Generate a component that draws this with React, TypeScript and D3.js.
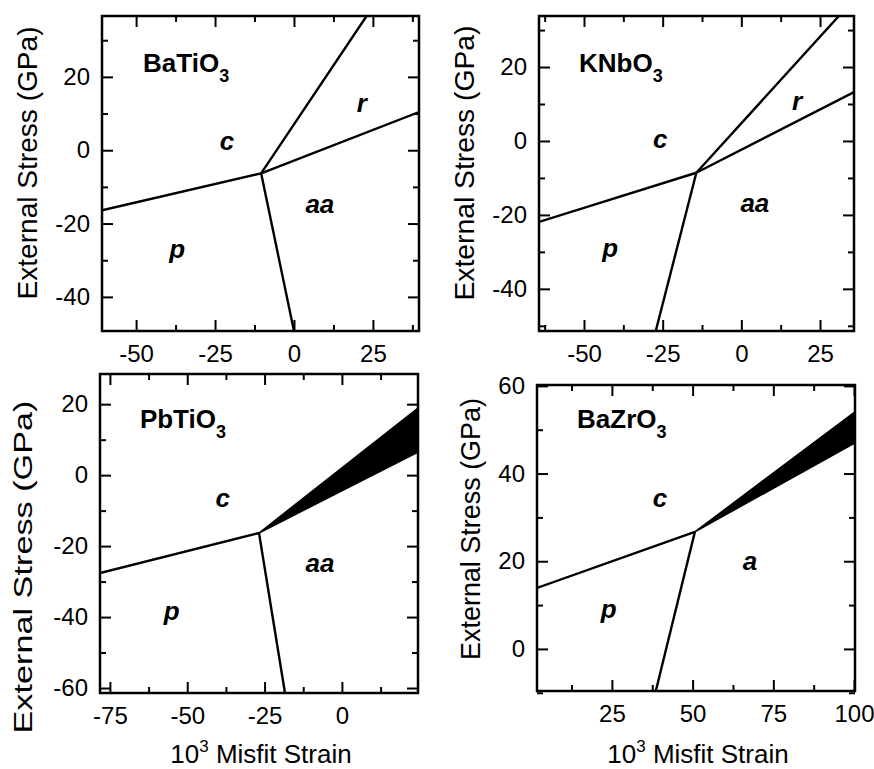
import React, { useEffect, useRef } from 'react';
import * as d3 from 'd3';

// panel names (formula, subscript)
const names = [['BaTiO', '3'], ['KNbO', '3'], ['PbTiO', '3'], ['BaZrO', '3']];

// axis ranges: [min, max]
const xDomains = [[-60.8, 39.6], [-64.3, 35.8], [-78.2, 24.6], [1.8, 100.3]];
const yDomains = [[-49.3, 36.6], [-51.4, 33.8], [-61.4, 28.5], [-9.6, 60.2]];

// labelled ticks
const xTicks = [[-50, -25, 0, 25], [-50, -25, 0, 25], [-75, -50, -25, 0], [25, 50, 75, 100]];
const yTicks = [[-40, -20, 0, 20], [-40, -20, 0, 20], [-60, -40, -20, 0, 20], [0, 20, 40, 60]];
// minor ticks (every 12.5 on x, every 10 on y)
const xMinor = [[-37.5, -12.5, 12.5, 37.5], [-62.5, -37.5, -12.5, 12.5], [-62.5, -37.5, -12.5, 12.5], [12.5, 37.5, 62.5, 87.5]];
const yMinor = [[-30, -10, 10, 30], [-50, -30, -10, 10, 30], [-50, -30, -10, 10], [-10, 10, 30, 50]];

// triple points [strain, stress]
const triplePoints = [[-10.4, -6.3], [-14.3, -8.6], [-26.8, -16.3], [50.7, 26.7]];

// ends of the phase boundaries that leave each triple point
const boundaryEnds = [
    [[-60.8, -16.4], [23, 36.6], [39.6, 10.4], [0, -49.3]],
    [[-64.3, -21.9], [31, 33.8], [35.8, 13.2], [-27.2, -51.4]],
    [[-78.2, -27.6], [-18.4, -61.4]],
    [[1.8, 13.9], [38.6, -9.6]],
];

// black wedge (narrow r phase) at the right edge: [strain, top stress, bottom stress]
const wedges = [null, null, [24.6, 18.9, 6.5], [100.3, 54.1, 47.0]];

// phase labels [text, strain, stress]
const phaseLabels = [
    [['c', -21.2, 0], ['r', 21.5, 10.5], ['aa', 8.2, -17.1], ['p', -37, -29.4]],
    [['c', -25.8, -1.9], ['r', 17.7, 8.4], ['aa', 4.3, -19.2], ['p', -41.7, -31.4]],
    [['c', -38.5, -9], ['aa', -7.1, -27.3], ['p', -55, -40.8]],
    [['c', 39.9, 32.4], ['a', 67.8, 18], ['p', 24, 7.1]],
];
// where the formula sits [strain, stress]
const nameSpots = [[-47.8, 21.4], [-51.6, 18.6], [-65.3, 13.2], [14.2, 50.4]];

// frame boxes of the four panels in pixels
const frames = [
    { left: 102, top: 16, width: 317, height: 315 },
    { left: 539, top: 16, width: 315, height: 315 },
    { left: 100, top: 374, width: 318, height: 319 },
    { left: 537, top: 385, width: 318, height: 306 },
];
// y title: centre y, baseline x, length, font size
const yTitles = [
    { cy: 163, bx: 37, len: 273, size: 28 },
    { cy: 163, bx: 474, len: 275, size: 28 },
    { cy: 567, bx: 32, len: 333, size: 26 },
    { cy: 529, bx: 480, len: 262, size: 28 },
];

const FONT = '"Liberation Sans", Arial, Helvetica, sans-serif';
// plain hyphen for negatives, like the original
const fmt = (d) => String(d);

function drawPanel(svg, i) {
    const f = frames[i];
    const x = d3.scaleLinear().domain(xDomains[i]).range([0, f.width]);
    const y = d3.scaleLinear().domain(yDomains[i]).range([f.height, 0]);

    const g = svg.append('g').attr('transform', `translate(${f.left},${f.top})`);

    // clip so the boundaries stop at the frame
    const clipId = `clip${i}`;
    g.append('clipPath').attr('id', clipId)
        .append('rect').attr('width', f.width).attr('height', f.height);
    const plot = g.append('g').attr('clip-path', `url(#${clipId})`);

    const tp = triplePoints[i];
    plot.selectAll('line.boundary')
        .data(boundaryEnds[i])
        .enter()
        .append('line')
        .attr('class', 'boundary')
        .attr('x1', x(tp[0])).attr('y1', y(tp[1]))
        .attr('x2', (d) => x(d[0])).attr('y2', (d) => y(d[1]))
        .attr('stroke', 'black')
        .attr('stroke-width', 2.4);

    const w = wedges[i];
    if (w) {
        plot.append('path')
            .attr('d', d3.line()([[x(tp[0]), y(tp[1])], [x(w[0]), y(w[1])], [x(w[0]), y(w[2])]]) + 'Z')
            .attr('fill', 'black')
            .attr('stroke', 'black')
            .attr('stroke-width', 1.5)
            .attr('stroke-linejoin', 'round');
    }

    // ticks on all four sides, pointing inward
    const axes = [
        [d3.axisBottom(x), `translate(0,${f.height})`, xTicks[i], xMinor[i], true, 'x'],
        [d3.axisTop(x), 'translate(0,0)', xTicks[i], xMinor[i], false, 'x'],
        [d3.axisLeft(y), 'translate(0,0)', yTicks[i], yMinor[i], true, 'y'],
        [d3.axisRight(y), `translate(${f.width},0)`, yTicks[i], yMinor[i], false, 'y'],
    ];
    axes.forEach(([ax, tr, major, minor, labelled, dir]) => {
        const maj = g.append('g').attr('transform', tr)
            .call(ax.tickValues(major).tickSize(-11).tickPadding(dir === 'x' ? 14 : 12)
                .tickFormat(labelled ? fmt : () => ''));
        maj.select('.domain').remove();
        maj.selectAll('line').attr('stroke', 'black').attr('stroke-width', 2);
        maj.selectAll('text')
            .attr('fill', 'black')
            .style('font-family', FONT)
            .style('font-size', '24px');
        if (labelled && dir === 'y') maj.selectAll('text').attr('x', -12);
        const mn = g.append('g').attr('transform', tr)
            .call(ax.tickValues(minor).tickSize(-6).tickFormat(() => ''));
        mn.select('.domain').remove();
        mn.selectAll('line').attr('stroke', 'black').attr('stroke-width', 2);
    });

    // frame
    g.append('rect')
        .attr('width', f.width).attr('height', f.height)
        .attr('fill', 'none').attr('stroke', 'black').attr('stroke-width', 2.5);

    // formula
    const nm = g.append('text')
        .attr('x', x(nameSpots[i][0])).attr('y', y(nameSpots[i][1]))
        .style('font-family', FONT).style('font-size', '26px').style('font-weight', 'bold');
    nm.append('tspan').text(names[i][0]);
    nm.append('tspan').attr('dy', 10).style('font-size', '18px').text(names[i][1]);

    // phase letters
    g.selectAll('text.phase')
        .data(phaseLabels[i])
        .enter()
        .append('text')
        .attr('class', 'phase')
        .attr('x', (d) => x(d[1])).attr('y', (d) => y(d[2]))
        .attr('text-anchor', 'middle')
        .style('font-family', FONT).style('font-size', '26px')
        .style('font-weight', 'bold').style('font-style', 'italic')
        .text((d) => d[0]);

    // y title
    const t = yTitles[i];
    svg.append('text')
        .attr('transform', `translate(${t.bx},${t.cy})rotate(-90)`)
        .attr('text-anchor', 'middle')
        .attr('textLength', t.len)
        .attr('lengthAdjust', 'spacingAndGlyphs')
        .style('font-family', FONT).style('font-size', `${t.size}px`)
        .text('External Stress (GPa)');

    // x title on the bottom row
    if (i >= 2) {
        const xt = svg.append('text')
            .attr('x', f.left + f.width / 2 + 2).attr('y', 763)
            .attr('text-anchor', 'middle')
            .style('font-family', FONT).style('font-size', '26px');
        xt.append('tspan').text('10');
        xt.append('tspan').attr('dy', -11).style('font-size', '17px').text('3');
        xt.append('tspan').attr('dy', 11).text(' Misfit Strain');
    }
}

export default function App() {
    const ref = useRef(null);

    useEffect(() => {
        const svg = d3.select(ref.current);
        svg.selectAll('*').remove();
        for (let i = 0; i < 4; i++) drawPanel(svg, i);
    }, []);

    return (
        <svg
            ref={ref}
            width={874}
            height={769}
            style={{ position: 'absolute', left: 0, top: 0, background: 'white' }}
        />
    );
}
